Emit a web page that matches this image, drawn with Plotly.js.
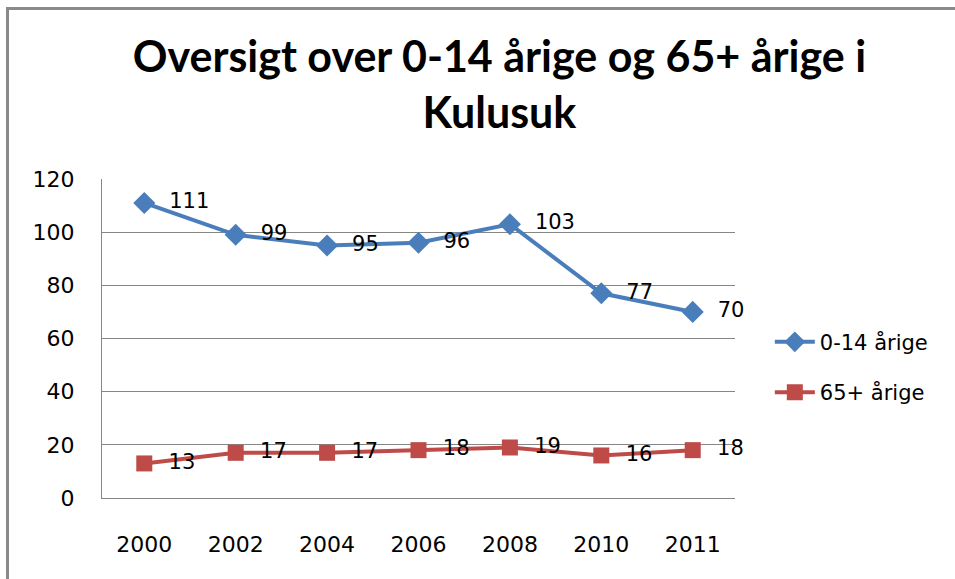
<!DOCTYPE html>
<html>
<head>
<meta charset="utf-8">
<script src="https://cdn.plot.ly/plotly-3.0.1.min.js"></script>
<style>
html,body{margin:0;padding:0;background:#fff;overflow:hidden;}
#frame{position:absolute;left:6px;top:7px;width:1000px;height:700px;border-left:3px solid #8a8a8a;border-top:3px solid #8a8a8a;}
#chart{position:absolute;left:0;top:0;width:955px;height:579px;}
</style>
</head>
<body>
<div id="frame"></div>
<div id="chart"></div>
<script>
const years = ['2000','2002','2004','2006','2008','2010','2011'];
const kids = [111, 99, 95, 96, 103, 77, 70];
const elderly = [13, 17, 17, 18, 19, 16, 18];
const seriesNames = ['0-14 årige', '65+ årige'];
const titleText = 'Oversigt over 0-14 årige og 65+ årige i<br>Kulusuk';

const font = '"DejaVu Sans", sans-serif';
const titleFont = 'Lato, "Open Sans", sans-serif';

const traces = [
  {
    x: years, y: kids, name: seriesNames[0], legendgroup: 'a', type: 'scatter', mode: 'lines+markers+text',
    line: {color: '#4a7ebb', width: 4},
    marker: {symbol: 'diamond', size: 17, color: '#4a7ebb'},
    text: kids.map(v => '  ' + v), textposition: 'middle right',
    textfont: {size: 21, color: '#000', family: font},
    cliponaxis: false
  },
  {
    x: years, y: elderly, name: seriesNames[1], legendgroup: 'b', type: 'scatter', mode: 'lines+markers+text',
    line: {color: '#be4b48', width: 4},
    marker: {symbol: 'square', size: 16, color: '#be4b48'},
    text: elderly.map(v => '  ' + v), textposition: 'middle right',
    textfont: {size: 21, color: '#000', family: font},
    cliponaxis: false
  }
];

const layout = {
  width: 955, height: 579,
  paper_bgcolor: 'rgba(0,0,0,0)', plot_bgcolor: 'rgba(0,0,0,0)',
  margin: {l: 102, r: 220, t: 179, b: 81},
  title: {text: titleText, x: 0.523, xanchor: 'center', y: 0.875, yanchor: 'top',
          font: {family: titleFont, size: 43, color: '#000', weight: 'bold'}},
  font: {family: font, size: 22, color: '#000'},
  xaxis: {type: 'category', showgrid: false, showline: true, linecolor: '#868686', linewidth: 1,
          ticks: '', tickfont: {size: 22, color: '#000'}, ticklabelstandoff: 27, zeroline: false},
  yaxis: {range: [0, 120], dtick: 20, showgrid: true, gridcolor: '#868686', gridwidth: 1,
          showline: true, linecolor: '#868686', linewidth: 1, ticks: '', zeroline: false,
          tickfont: {size: 22, color: '#000'}, ticklabelstandoff: 22},
  legend: {x: 1.055, xanchor: 'left', y: 0.41, yanchor: 'middle', font: {size: 21, color: '#000'},
           traceorder: 'grouped', tracegroupgap: 20, itemwidth: 40, bgcolor: 'rgba(0,0,0,0)'},
  showlegend: true
};

Plotly.newPlot('chart', traces, layout, {displayModeBar: false, staticPlot: true});
</script>
</body>
</html>
